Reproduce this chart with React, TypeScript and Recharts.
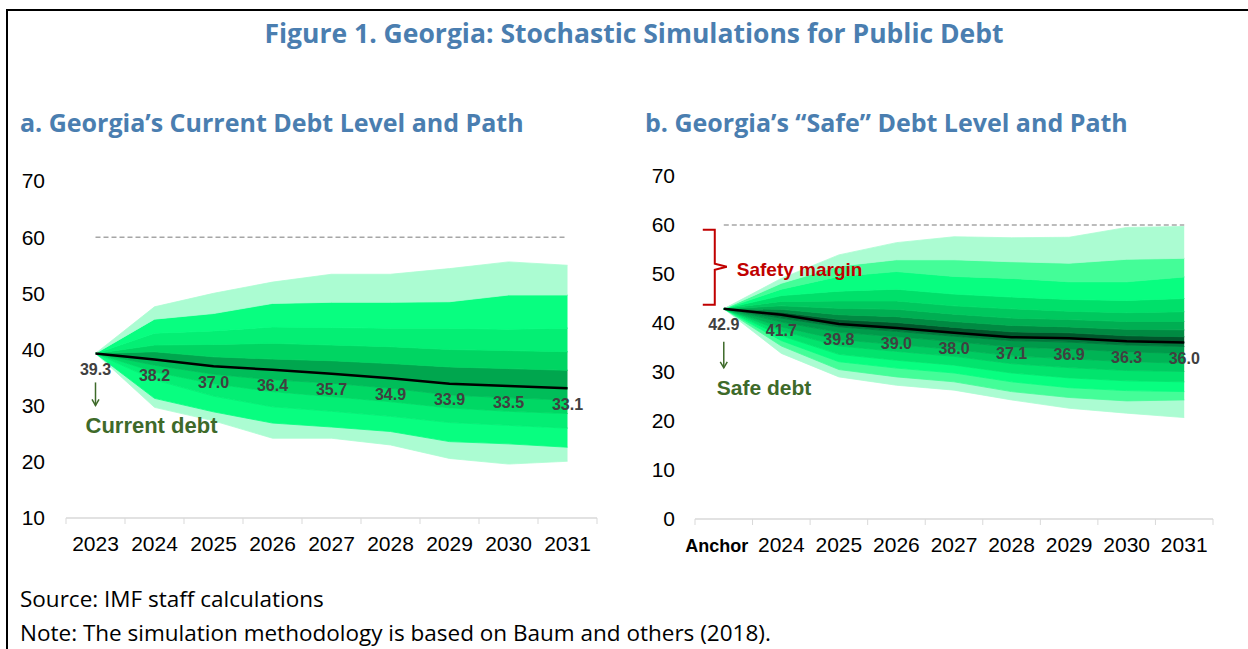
import React from 'react';
import { ComposedChart, Area, Line, XAxis, YAxis, ReferenceDot, LabelList } from 'recharts';

// ---------- Panel a: current debt ----------
const currentYears = ['2023', '2024', '2025', '2026', '2027', '2028', '2029', '2030', '2031'];
const currentMedian = [39.3, 38.2, 37.0, 36.4, 35.7, 34.9, 33.9, 33.5, 33.1];
const currentUpper1 = [39.3, 39.6, 38.7, 38.3, 38.0, 37.5, 36.9, 36.6, 36.3];
const currentUpper2 = [39.3, 40.8, 40.9, 41.1, 40.8, 40.5, 40.0, 39.8, 39.6];
const currentUpper3 = [39.3, 42.9, 43.3, 44.0, 43.9, 43.8, 43.8, 43.6, 43.8];
const currentUpper4 = [39.3, 45.4, 46.4, 48.2, 48.4, 48.4, 48.5, 49.7, 49.7];
const currentUpper5 = [39.3, 47.6, 50.0, 52.0, 53.4, 53.4, 54.4, 55.6, 55.0];
const currentLower1 = [39.3, 37.2, 35.6, 34.6, 34.0, 33.1, 31.9, 31.4, 31.0];
const currentLower2 = [39.3, 36.0, 33.9, 32.5, 31.6, 30.7, 29.6, 29.0, 28.6];
const currentLower3 = [39.3, 34.6, 31.7, 29.8, 29.0, 28.1, 27.0, 26.5, 26.0];
const currentLower4 = [39.3, 31.3, 28.9, 26.9, 26.2, 25.4, 23.6, 23.2, 22.6];
const currentLower5 = [39.3, 29.7, 27.3, 24.2, 24.2, 23.0, 20.6, 19.6, 20.1];
const currentThreshold = [60, 60, 60, 60, 60, 60, 60, 60, 60];
const currentTicks = [10, 20, 30, 40, 50, 60, 70];

// ---------- Panel b: safe debt ----------
const safeYears = ['Anchor', '2024', '2025', '2026', '2027', '2028', '2029', '2030', '2031'];
const safeMedian = [42.9, 41.7, 39.8, 39.0, 38.0, 37.1, 36.9, 36.3, 36.0];
const safeUpper1 = [42.9, 42.2, 40.7, 40.1, 39.1, 38.2, 38.0, 37.4, 37.2];
const safeUpper2 = [42.9, 42.8, 41.7, 41.3, 40.3, 39.5, 39.2, 38.7, 38.6];
const safeUpper3 = [42.9, 43.5, 43.0, 42.8, 41.8, 41.0, 40.7, 40.3, 40.3];
const safeUpper4 = [42.9, 44.4, 44.5, 44.5, 43.5, 42.9, 42.4, 42.1, 42.3];
const safeUpper5 = [42.9, 45.6, 46.5, 46.9, 45.9, 45.3, 44.8, 44.6, 45.0];
const safeUpper6 = [42.9, 46.9, 49.5, 50.5, 49.5, 49.1, 48.4, 48.4, 49.4];
const safeUpper7 = [42.9, 48.1, 51.6, 52.9, 52.9, 52.5, 52.2, 53.0, 53.2];
const safeUpper8 = [42.9, 49.1, 53.9, 56.4, 57.6, 57.4, 57.5, 59.5, 59.7];
const safeLower1 = [42.9, 41.0, 39.2, 38.3, 37.3, 36.4, 36.1, 35.5, 35.2];
const safeLower2 = [42.9, 40.2, 38.1, 37.2, 36.2, 35.1, 34.7, 34.1, 33.8];
const safeLower3 = [42.9, 39.2, 36.6, 35.6, 34.6, 33.3, 32.7, 32.1, 31.8];
const safeLower4 = [42.9, 38.4, 35.3, 34.2, 33.2, 31.7, 30.9, 30.3, 30.1];
const safeLower5 = [42.9, 37.4, 33.6, 32.4, 31.4, 29.8, 28.8, 28.2, 28.0];
const safeLower6 = [42.9, 36.4, 32.1, 30.8, 29.8, 28.0, 26.8, 26.2, 26.0];
const safeLower7 = [42.9, 35.3, 30.5, 29.0, 28.0, 26.0, 24.8, 24.1, 24.3];
const safeLower8 = [42.9, 33.8, 29.0, 27.3, 26.3, 24.3, 22.6, 21.6, 20.7];
const safeThreshold = [60, 60, 60, 60, 60, 60, 60, 60, 60];
const safeTicks = [0, 10, 20, 30, 40, 50, 60, 70];

// ---------- styles ----------
const AXIS_FONT = '"Liberation Sans", Arial, sans-serif';
const TITLE_FONT = '"Open Sans", Lato, sans-serif';
const TITLE_BLUE = '#4A7EB0';
const NOTE_GREEN = '#3E6A2A';
const LABEL_GRAY = '#404040';
const MINT = '#ABFCD2';
const BRIGHT = '#08FE80';

type Band = { lo: number[]; hi: number[]; color: string };

const currentBands: Band[] = [
  { lo: currentLower5, hi: currentLower4, color: MINT },
  { lo: currentLower4, hi: currentLower3, color: BRIGHT },
  { lo: currentLower3, hi: currentLower2, color: '#04EE74' },
  { lo: currentLower2, hi: currentLower1, color: '#00D864' },
  { lo: currentLower1, hi: currentMedian, color: '#00BD59' },
  { lo: currentMedian, hi: currentUpper1, color: '#00A64E' },
  { lo: currentUpper1, hi: currentUpper2, color: '#00D562' },
  { lo: currentUpper2, hi: currentUpper3, color: '#04EF74' },
  { lo: currentUpper3, hi: currentUpper4, color: BRIGHT },
  { lo: currentUpper4, hi: currentUpper5, color: MINT },
];

const safeBands: Band[] = [
  { lo: safeLower8, hi: safeLower7, color: MINT },
  { lo: safeLower7, hi: safeLower6, color: '#44FD98' },
  { lo: safeLower6, hi: safeLower5, color: BRIGHT },
  { lo: safeLower5, hi: safeLower4, color: '#02E46D' },
  { lo: safeLower4, hi: safeLower3, color: '#00CC61' },
  { lo: safeLower3, hi: safeLower2, color: '#00B455' },
  { lo: safeLower2, hi: safeLower1, color: '#009A4A' },
  { lo: safeLower1, hi: safeMedian, color: '#00773B' },
  { lo: safeMedian, hi: safeUpper1, color: '#00562B' },
  { lo: safeUpper1, hi: safeUpper2, color: '#008A42' },
  { lo: safeUpper2, hi: safeUpper3, color: '#00AE52' },
  { lo: safeUpper3, hi: safeUpper4, color: '#00C85E' },
  { lo: safeUpper4, hi: safeUpper5, color: '#00E06A' },
  { lo: safeUpper5, hi: safeUpper6, color: BRIGHT },
  { lo: safeUpper6, hi: safeUpper7, color: '#44FD98' },
  { lo: safeUpper7, hi: safeUpper8, color: MINT },
];

const buildRows = (cats: string[], median: number[], limit: number[], bands: Band[]) =>
  cats.map((cat, i) => {
    const row: Record<string, any> = { cat, median: median[i], limit: limit[i] };
    bands.forEach((b, j) => {
      row['band' + j] = [b.lo[i], b.hi[i]];
    });
    return row;
  });

const currentRows = buildRows(currentYears, currentMedian, currentThreshold, currentBands);
const safeRows = buildRows(safeYears, safeMedian, safeThreshold, safeBands);

const makeTick = (bw: number, count: number) => (props: any) => {
  const { x, y, payload, index } = props;
  const isAnchor = payload.value === 'Anchor';
  return (
    <g>
      <line x1={x - bw / 2} y1={y} x2={x - bw / 2} y2={y + 6} stroke="#D9D9D9" strokeWidth={1} />
      {index === count - 1 && (
        <line x1={x + bw / 2} y1={y} x2={x + bw / 2} y2={y + 6} stroke="#D9D9D9" strokeWidth={1} />
      )}
      <text
        x={isAnchor ? x - 7 : x}
        y={y + 33}
        textAnchor="middle"
        fontSize={isAnchor ? 18 : 21}
        fontWeight={isAnchor ? 700 : 400}
        fill="#000"
        fontFamily={AXIS_FONT}
      >
        {payload.value}
      </text>
    </g>
  );
};

const renderValueLabel = (props: any) => {
  const x = props.x ?? props.viewBox?.x;
  const y = props.y ?? props.viewBox?.y;
  const v = Number(props.value);
  return (
    <text
      x={x}
      y={y + 21.5}
      textAnchor="middle"
      fontSize={16}
      fontWeight={700}
      fill={LABEL_GRAY}
      fontFamily={AXIS_FONT}
    >
      {v.toFixed(1)}
    </text>
  );
};

const Arrow = ({ x, y1, y2, color }: { x: number; y1: number; y2: number; color: string }) => (
  <g>
    <line x1={x} y1={y1} x2={x} y2={y2} stroke={color} strokeWidth={1.5} />
    <path d={`M${x - 3.5},${y2 - 6} L${x},${y2} L${x + 3.5},${y2 - 6}`} stroke={color} strokeWidth={1.5} fill="none" />
  </g>
);

const CurrentNote = (p: any) => {
  const { cx, cy } = p;
  return (
    <g>
      <Arrow x={cx} y1={cy + 29} y2={cy + 52} color={NOTE_GREEN} />
      <text x={cx - 10} y={cy + 80} fontSize={22} fontWeight={700} fill={NOTE_GREEN} fontFamily={AXIS_FONT}>
        Current debt
      </text>
    </g>
  );
};

const SafeNote = (p: any) => {
  const { cx, cy } = p;
  return (
    <g>
      <Arrow x={cx} y1={cy + 33} y2={cy + 59} color={NOTE_GREEN} />
      <text x={cx - 7} y={cy + 86} fontSize={21} fontWeight={700} fill={NOTE_GREEN} fontFamily={AXIS_FONT}>
        Safe debt
      </text>
      <path
        d={`M${cx - 21},${cy - 79} L${cx - 9},${cy - 79} L${cx - 9},${cy - 45} L${cx + 3},${cy - 42} L${cx - 9},${cy - 39} L${cx - 9},${cy - 4} L${cx - 21},${cy - 4}`}
        stroke="#C00000"
        strokeWidth={2}
        fill="none"
      />
      <text x={cx + 13} y={cy - 33} fontSize={19} fontWeight={700} fill="#C00000" fontFamily={AXIS_FONT}>
        Safety margin
      </text>
    </g>
  );
};

type PanelProps = {
  rows: Record<string, any>[];
  bands: Band[];
  ticks: number[];
  domain: [number, number];
  width: number;
  height: number;
  margin: { top: number; right: number; bottom: number; left: number };
  yWidth: number;
  yTickMargin: number;
  firstCat: string;
  firstValue: number;
  note: (p: any) => React.ReactElement;
};

const Panel = (props: PanelProps) => {
  const plotWidth = props.width - props.margin.left - props.margin.right - props.yWidth;
  const bw = plotWidth / props.rows.length;
  return (
    <ComposedChart width={props.width} height={props.height} data={props.rows} margin={props.margin}>
      <XAxis
        dataKey="cat"
        interval={0}
        height={42}
        tickSize={0}
        tickMargin={0}
        tickLine={false}
        padding={{ left: bw / 2, right: bw / 2 }}
        axisLine={{ stroke: '#D9D9D9', strokeWidth: 1.5 }}
        tick={makeTick(bw, props.rows.length)}
      />
      <YAxis
        domain={props.domain}
        ticks={props.ticks}
        interval={0}
        width={props.yWidth}
        axisLine={false}
        tickLine={false}
        tickMargin={props.yTickMargin}
        tick={{ fontSize: 21, fill: '#000', fontFamily: AXIS_FONT }}
      />
      {props.bands.map((b, j) => (
        <Area
          key={j}
          dataKey={'band' + j}
          type="linear"
          stroke={b.color}
          strokeWidth={0.8}
          fill={b.color}
          fillOpacity={1}
          isAnimationActive={false}
          activeDot={false}
          dot={false}
        />
      ))}
      <Line
        dataKey="limit"
        type="linear"
        stroke="#A6A6A6"
        strokeWidth={1.5}
        strokeDasharray="5 3"
        dot={false}
        activeDot={false}
        isAnimationActive={false}
      />
      <Line
        dataKey="median"
        type="linear"
        stroke="#000"
        strokeWidth={2.5}
        dot={false}
        activeDot={false}
        isAnimationActive={false}
      >
        <LabelList dataKey="median" content={renderValueLabel} />
      </Line>
      <ReferenceDot x={props.firstCat} y={props.firstValue} r={0} shape={props.note} />
    </ComposedChart>
  );
};

const headingStyle: React.CSSProperties = {
  position: 'absolute',
  fontFamily: TITLE_FONT,
  fontWeight: 700,
  fontSize: 25,
  lineHeight: '34px',
  color: TITLE_BLUE,
  whiteSpace: 'nowrap',
};

const footStyle: React.CSSProperties = {
  position: 'absolute',
  left: 20,
  fontFamily: TITLE_FONT,
  fontSize: 22.5,
  lineHeight: '28px',
  color: '#000',
  whiteSpace: 'nowrap',
};

const App = () => (
  <div style={{ position: 'absolute', left: 0, top: 0, width: 1248, height: 649, overflow: 'hidden', background: '#fff' }}>
    <div
      style={{
        position: 'absolute',
        left: 6,
        top: 9,
        width: 1300,
        height: 700,
        borderTop: '2px solid #000',
        borderLeft: '2px solid #000',
      }}
    />
    <div style={{ ...headingStyle, left: 0, top: 16, width: 1268, textAlign: 'center', fontSize: 26.5 }}>
      Figure 1. Georgia: Stochastic Simulations for Public Debt
    </div>
    <div style={{ ...headingStyle, left: 20, top: 105 }}>a. Georgia’s Current Debt Level and Path</div>
    <div style={{ ...headingStyle, left: 645, top: 105 }}>b. Georgia’s “Safe” Debt Level and Path</div>

    <div style={{ position: 'absolute', left: 0, top: 150 }}>
      <Panel
        rows={currentRows}
        bands={currentBands}
        ticks={currentTicks}
        domain={[10, 70]}
        width={620}
        height={410}
        margin={{ top: 31, right: 23, bottom: 0, left: 0 }}
        yWidth={66}
        yTickMargin={15}
        firstCat={currentYears[0]}
        firstValue={currentMedian[0]}
        note={CurrentNote}
      />
    </div>
    <div style={{ position: 'absolute', left: 620, top: 145 }}>
      <Panel
        rows={safeRows}
        bands={safeBands}
        ticks={safeTicks}
        domain={[0, 70]}
        width={620}
        height={416}
        margin={{ top: 31, right: 27, bottom: 0, left: 0 }}
        yWidth={75}
        yTickMargin={14}
        firstCat={safeYears[0]}
        firstValue={safeMedian[0]}
        note={SafeNote}
      />
    </div>

    <div style={{ ...footStyle, top: 585 }}>Source: IMF staff calculations</div>
    <div style={{ ...footStyle, top: 619 }}>
      Note: The simulation methodology is based on Baum and others (2018).
    </div>
  </div>
);

export default App;
